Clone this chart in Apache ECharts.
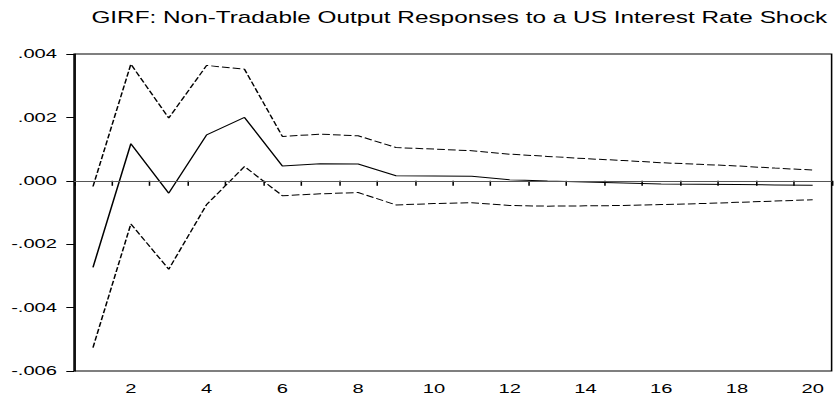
<!DOCTYPE html>
<html>
<head>
<meta charset="utf-8">
<script src="https://cdn.jsdelivr.net/npm/echarts@6/dist/echarts.min.js"></script>
<style>
  html, body { margin: 0; padding: 0; background: #fff; overflow: hidden; }
  /* The chart is laid out narrow and stretched horizontally, giving the wide glyphs of the figure */
  #wrap { width: 835px; height: 398px; overflow: hidden; }
  #chart { width: 539px; height: 398px; transform: scaleX(1.5492); transform-origin: 0 0; }
</style>
</head>
<body>
<div id="wrap"><div id="chart"></div></div>
<script>
// Horizon (periods after the shock)
const periods = ['1','2','3','4','5','6','7','8','9','10','11','12','13','14','15','16','17','18','19','20'];

// Generalised impulse response of non-tradable output
const response = [-0.00273, 0.00117, -0.00039, 0.00145, 0.00200, 0.00047, 0.00054, 0.00053, 0.00016, 0.00015,
                  0.00014, 0.00003, -0.00001, -0.00004, -0.00007, -0.00010, -0.00011, -0.00012, -0.00013, -0.00014];

// Upper and lower confidence bands
const upperBand = [-0.00018, 0.00368, 0.00198, 0.00364, 0.00352, 0.00140, 0.00147, 0.00142, 0.00105, 0.00100,
                   0.00095, 0.00084, 0.00077, 0.00070, 0.00064, 0.00057, 0.00052, 0.00047, 0.00040, 0.00034];
const lowerBand = [-0.00526, -0.00136, -0.00279, -0.00075, 0.00045, -0.00047, -0.00041, -0.00037, -0.00076, -0.00072,
                   -0.00069, -0.00078, -0.00080, -0.00079, -0.00078, -0.00075, -0.00072, -0.00068, -0.00064, -0.00060];

const titleText = 'GIRF: Non-Tradable Output Responses to a US Interest Rate Shock';
const yMin = -0.006, yMax = 0.004, yStep = 0.002;

const FONT = '"Liberation Sans", Arial, Helvetica, sans-serif';

function fmtTick(v) {
  return v.toFixed(3).replace('0.', '.');
}

const chart = echarts.init(document.getElementById('chart'), null, { renderer: 'svg' });

chart.setOption({
  animation: false,
  backgroundColor: '#fff',
  title: {
    text: titleText,
    left: 296.5,
    top: 9,
    textAlign: 'center',
    padding: 0,
    textStyle: { fontFamily: FONT, fontSize: 15.7, fontWeight: 'normal', color: '#000' }
  },
  grid: {
    left: 47.8, right: 2.2, top: 54, bottom: 27,
    show: true, borderColor: '#000', borderWidth: 1, backgroundColor: 'transparent'
  },
  xAxis: {
    type: 'category',
    data: periods,
    boundaryGap: true,
    axisLine: { lineStyle: { color: '#000', width: 1 } },
    axisTick: { show: true, interval: 0, length: 5, inside: false, lineStyle: { color: '#000' } },
    axisLabel: {
      interval: function (idx) { return idx % 2 === 1; },
      margin: 11,
      fontFamily: FONT, fontSize: 13, color: '#000'
    },
    splitLine: { show: false }
  },
  yAxis: {
    type: 'value',
    min: yMin, max: yMax, interval: yStep,
    axisLine: { show: true, lineStyle: { color: '#000', width: 1 } },
    axisTick: { show: true, length: 5, inside: false, lineStyle: { color: '#000' } },
    axisLabel: { formatter: fmtTick, margin: 11, fontFamily: FONT, fontSize: 13, color: '#000' },
    splitLine: { show: false }
  },
  series: [
    {
      name: 'Response',
      type: 'line',
      data: response,
      symbol: 'none',
      lineStyle: { color: '#000', width: 1, type: 'solid' },
      markLine: {
        silent: true,
        symbol: 'none',
        label: { show: false },
        lineStyle: { color: '#555', width: 1, type: 'solid' },
        data: [{ yAxis: 0 }]
      },
      z: 3
    },
    {
      name: 'Upper',
      type: 'line',
      data: upperBand,
      symbol: 'none',
      lineStyle: { color: '#000', width: 1, type: [5, 2] },
      z: 2
    },
    {
      name: 'Lower',
      type: 'line',
      data: lowerBand,
      symbol: 'none',
      lineStyle: { color: '#000', width: 1, type: [5, 2] },
      z: 2
    }
  ]
});
</script>
</body>
</html>
